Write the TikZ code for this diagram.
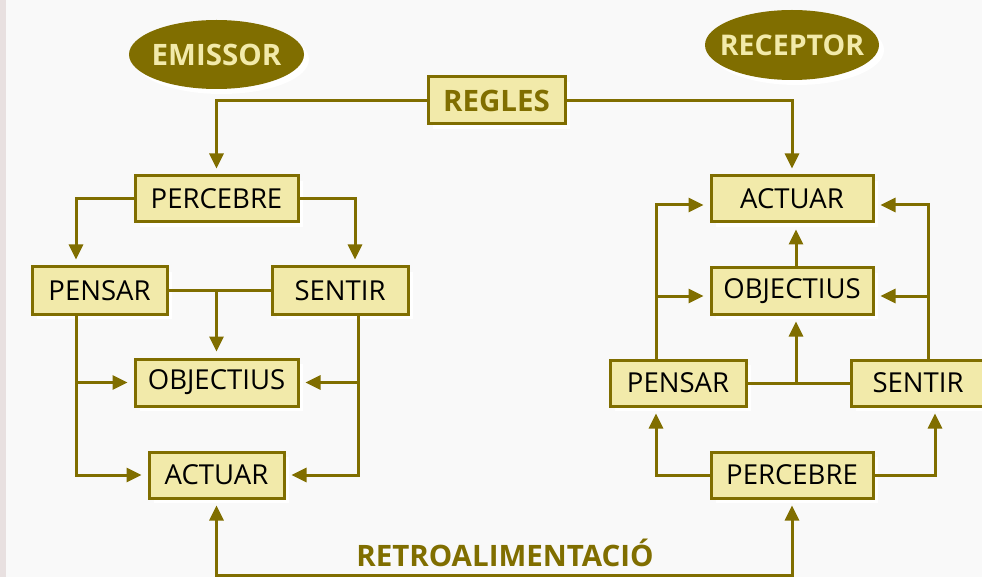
\documentclass[tikz,border=0pt]{standalone}
\usepackage{fontspec}
\setmainfont{Open Sans}
\usetikzlibrary{arrows.meta,shadows,shapes.geometric}
\definecolor{olive}{RGB}{128,110,0}
\definecolor{boxfill}{RGB}{242,234,170}
\definecolor{bgc}{RGB}{249,249,249}
\definecolor{strip}{RGB}{232,224,224}
\tikzset{
  wsh/.style={drop shadow={shadow xshift=5pt,shadow yshift=-5pt,fill=white,opacity=1}},
  box/.style={draw=olive,line width=3pt,fill=boxfill,rectangle,inner sep=0pt,
    font=\fontsize{27.5}{30}\selectfont,text=black,wsh},
  bold/.style={font=\fontsize{29.5}{32}\selectfont\bfseries},
  oval/.style={ellipse,fill=olive,inner sep=0pt,text=boxfill,bold,wsh},
  conn/.style={draw=olive,line width=3pt},
  arr/.style={conn,-{Triangle[length=15pt,width=14pt]},shorten >=6pt},
  arrb/.style={conn,{Triangle[length=15pt,width=14pt]}-{Triangle[length=15pt,width=14pt]},shorten >=6pt,shorten <=6pt},
}
\begin{document}
\begin{tikzpicture}[x=1pt,y=-1pt]
\useasboundingbox (0,0) rectangle (982,577);
\fill[bgc] (0,0) rectangle (982,577);
\fill[strip] (0,0) rectangle (6,577);
\begin{scope}
\clip (0,0) rectangle (982,577);
% title ovals
\node[oval,minimum width=175pt,minimum height=69pt] (Emi) at (216.5,54.5) {\makebox[0pt]{EMISSOR}};
\node[oval,minimum width=174pt,minimum height=70pt,font=\fontsize{28.5}{32}\selectfont\bfseries] (Rec) at (792,45) {\makebox[0pt]{RECEPTOR}};
% rules
\node[box,minimum width=137pt,minimum height=47pt,text=olive,bold] (Reg) at (496.5,100.5) {REGLES};
% left side (emissor)
\node[box,minimum width=163pt,minimum height=46pt] (PercL) at (216.5,199) {PERCEBRE};
\node[box,minimum width=135pt,minimum height=47pt] (PensL) at (99.5,290.5) {PENSAR};
\node[box,minimum width=136pt,minimum height=47pt] (SentL) at (340,290.5) {SENTIR};
\node[box,minimum width=163pt,minimum height=47pt] (ObjL) at (216.5,382.5) {OBJECTIUS};
\node[box,minimum width=135pt,minimum height=46pt] (ActL) at (216.5,475) {ACTUAR};
% right side (receptor)
\node[box,minimum width=162pt,minimum height=46pt] (ActR) at (792,199) {ACTUAR};
\node[box,minimum width=162pt,minimum height=46pt] (ObjR) at (792,291) {OBJECTIUS};
\node[box,minimum width=136pt,minimum height=46pt] (PensR) at (678,383) {PENSAR};
\node[box,minimum width=134pt,minimum height=46pt] (SentR) at (918,383) {SENTIR};
\node[box,minimum width=162pt,minimum height=46pt] (PercR) at (792,475) {PERCEBRE};
% feedback label
\node[text=olive,bold] (Retro) at (505,553) {RETROALIMENTACIÓ};
\coordinate (fb) at (505,575);
% connectors: rules
\draw[arr] (Reg.west) -| (PercL.north);
\draw[arr] (Reg.east) -| (ActR.north);
% left
\draw[arr] (PercL.west) -| ([xshift=-23.5pt]PensL.north);
\draw[arr] (PercL.east) -| ([xshift=15pt]SentL.north);
\draw[conn] (PensL.east) -- (SentL.west);
\draw[arr] (PensL.east -| ObjL.north) -- (ObjL.north);
\coordinate (pl) at ([xshift=-23.5pt]PensL.south);
\coordinate (sl) at ([xshift=18pt]SentL.south);
\draw[arr] (pl) |- (ActL.west);
\draw[arr] (pl |- ObjL.west) -- (ObjL.west);
\draw[arr] (sl) |- (ActL.east);
\draw[arr] (sl |- ObjL.east) -- (ObjL.east);
% feedback
\draw[arrb] (ActL.south) |- (fb) -| (PercR.south);
% right
\coordinate (pr) at ([xshift=-22pt]PensR.north);
\coordinate (sr) at ([xshift=10pt]SentR.north);
\draw[arr] (pr) |- ([yshift=-6pt]ActR.west);
\draw[arr] ([yshift=-5pt]ObjR.west -| pr) -- ([yshift=-5pt]ObjR.west);
\draw[arr] (sr) |- ([yshift=-6pt]ActR.east);
\draw[arr] ([yshift=-5pt]ObjR.east -| sr) -- ([yshift=-5pt]ObjR.east);
\draw[conn] (PensR.east) -- (SentR.west);
\draw[arr] ([xshift=4pt]ObjR.south |- PensR.east) -- ([xshift=4pt]ObjR.south);
\draw[arr] ([xshift=4pt]ObjR.north) -- ([xshift=4pt]ActR.south);
\draw[arr] (PercR.west) -| ([xshift=-22pt]PensR.south);
\draw[arr] (PercR.east) -| ([xshift=17pt]SentR.south);
\end{scope}
\end{tikzpicture}
\end{document}
